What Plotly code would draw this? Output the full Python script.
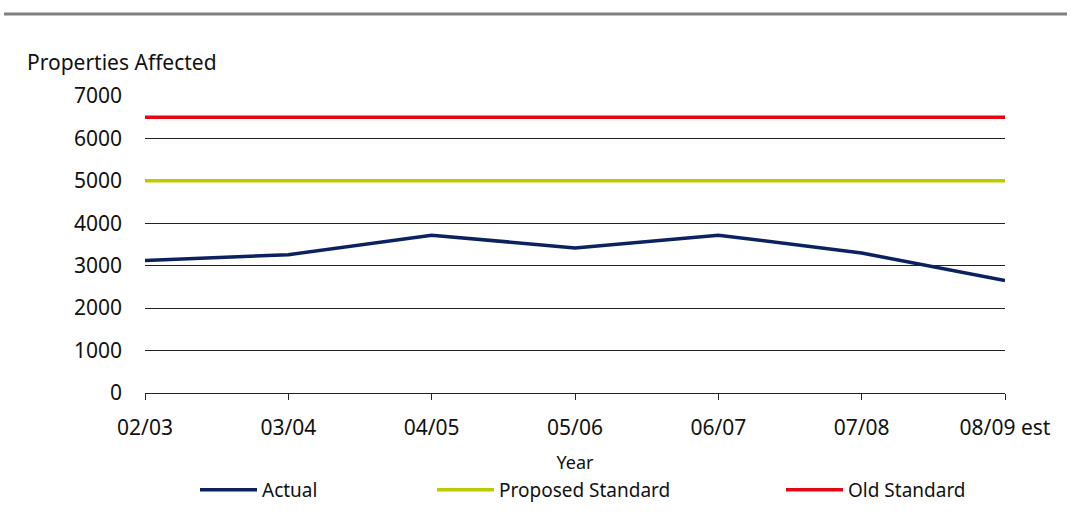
import plotly.graph_objects as go

years = ["02/03", "03/04", "04/05", "05/06", "06/07", "07/08", "08/09 est"]
actual = [3120, 3260, 3720, 3420, 3720, 3300, 2650]
proposed_standard = [5000] * len(years)
old_standard = [6500] * len(years)

FONT = "Noto Sans"
W, H = 1073, 528
L, R, T, B = 145, 68, 96, 135
plot_h = H - T - B
plot_w = W - L - R


def px_x(p):
    return (p - L) / plot_w


def px_y(p):
    return (H - B - p) / plot_h


series = [
    ("Actual", actual, "#0b2160", "legend", 195),
    ("Proposed Standard", proposed_standard, "#bccb00", "legend2", 432),
    ("Old Standard", old_standard, "#e30613", "legend3", 781),
]

fig = go.Figure()
legend_layouts = {}
for name, values, color, legend_id, left_px in series:
    fig.add_trace(go.Scatter(x=years, y=values, mode="lines", name=name,
                             legend=legend_id, showlegend=True,
                             line=dict(color=color, width=3.5)))
    legend_layouts[legend_id] = dict(
        orientation="h", x=px_x(left_px), xanchor="left", y=px_y(490), yanchor="middle",
        itemwidth=57, font=dict(family=FONT, size=19, color="#111111"),
        bgcolor="rgba(0,0,0,0)",
    )

fig.update_layout(
    width=W, height=H,
    showlegend=True,
    margin=dict(l=L, r=R, t=T, b=B),
    paper_bgcolor="white", plot_bgcolor="white",
    font=dict(family=FONT, size=21, color="#111111"),
    xaxis=dict(
        type="category", range=[0, 6], showgrid=False, zeroline=False,
        showline=True, linecolor="#222222", linewidth=1,
        ticks="outside", ticklen=6, tickcolor="#222222", tickwidth=1,
        ticklabelstandoff=10,
        title=dict(text="Year", standoff=16, font=dict(size=18)),
    ),
    yaxis=dict(
        range=[0, 7000], tickvals=list(range(0, 7001, 1000)),
        showgrid=True, gridcolor="#222222", gridwidth=1,
        zeroline=False, showline=False, ticks="", ticklabelstandoff=22,
    ),
    annotations=[
        dict(text="Properties Affected", xref="paper", yref="paper",
             x=px_x(25), y=px_y(62), xanchor="left", yanchor="middle",
             showarrow=False, font=dict(family=FONT, size=21, color="#111111")),
    ],
    shapes=[
        dict(type="line", xref="paper", yref="paper",
             x0=px_x(4), x1=px_x(1067), y0=px_y(14), y1=px_y(14),
             line=dict(color="#808080", width=3)),
    ],
    **legend_layouts,
)

fig.write_html("out.html")
